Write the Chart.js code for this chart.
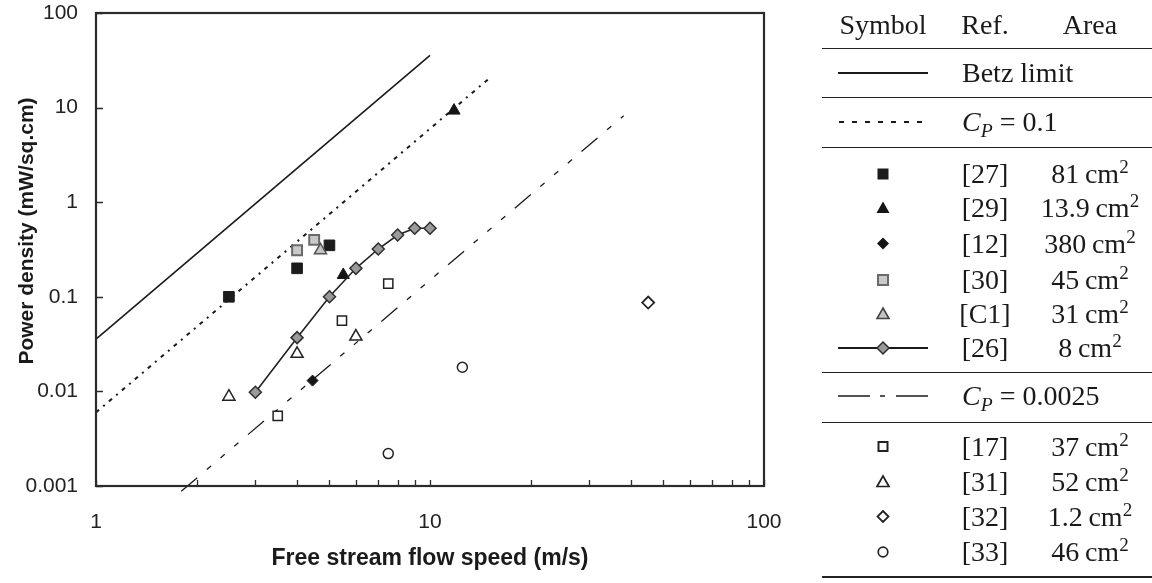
<!DOCTYPE html>
<html>
<head>
<meta charset="utf-8">
<script src="https://cdn.jsdelivr.net/npm/chart.js@4.4.0/dist/chart.umd.min.js"></script>
<style>
  body { margin: 0; background: #fff; }
  #wrap { position: relative; width: 1152px; height: 583px; overflow: hidden; }
  #chart { position: absolute; left: 0; top: 0; }
  .cell { position: absolute; font-family: "Liberation Serif", serif; font-size: 28px; color: #1a1a1a;
          line-height: 34px; height: 34px; white-space: nowrap; }
  .rule { position: absolute; left: 822px; width: 330px; height: 1px; background: #222; }
  .sym { position: absolute; left: 833px; }
  sup { font-size: 68%; vertical-align: 0.5em; line-height: 0; }
  sub { font-size: 70%; vertical-align: -0.3em; line-height: 0; }
</style>
</head>
<body>
<div id="wrap">
  <canvas id="chart" width="800" height="583"></canvas>
  <div id="table"></div>
</div>
<script>
// straight reference lines, given by their two end points
const betzSpeed = [1, 10]
const betzPower = [0.0356, 35.6]
const cp01Speed = [1, 15.2]
const cp01Power = [0.006, 21]
const cp0025Speed = [1.8, 38]
const cp0025Power = [0.00088, 8.2]

// measured devices: speed (m/s) and power density (mW/cm2)
const speed27 = [2.5, 4, 5]
const power27 = [0.1, 0.2, 0.35]
const speed29 = [5.5, 11.8]
const power29 = [0.17, 9.3]
const speed12 = [4.45]
const power12 = [0.013]
const speed30 = [4, 4.5]
const power30 = [0.31, 0.4]
const speedC1 = [4.7]
const powerC1 = [0.31]
const speed26 = [3, 4, 5, 6, 7, 8, 9, 10]
const power26 = [0.0098, 0.037, 0.1, 0.2, 0.32, 0.45, 0.53, 0.53]
const speed17 = [3.5, 5.45, 7.5]
const power17 = [0.0055, 0.056, 0.138]
const speed31 = [2.5, 4, 6]
const power31 = [0.0088, 0.025, 0.038]
const speed32 = [45]
const power32 = [0.087]
const speed33 = [7.5, 12.5]
const power33 = [0.0022, 0.018]

const xTickValues = [1, 2, 3, 4, 5, 6, 7, 8, 9, 10, 20, 30, 40, 50, 60, 70, 80, 90, 100]
const xTickLabels = [1, 10, 100]
const yTickValues = [0.001, 0.01, 0.1, 1, 10, 100]
const xTitle = 'Free stream flow speed (m/s)'
const yTitle = 'Power density (mW/sq.cm)'

// table on the right
const groupOneRefs = ['[27]', '[29]', '[12]', '[30]', '[C1]', '[26]']
const groupOneAreas = ['81', '13.9', '380', '45', '31', '8']
const groupTwoRefs = ['[17]', '[31]', '[32]', '[33]']
const groupTwoAreas = ['37', '52', '1.2', '46']

function points(xs, ys) {
    return xs.map((x, i) => ({ x: x, y: ys[i] }))
}

function markers(xs, ys, style, radius, fill, stroke, width) {
    return {
        data: points(xs, ys),
        showLine: false,
        pointStyle: style,
        pointRadius: radius,
        pointBackgroundColor: fill,
        pointBorderColor: stroke,
        pointBorderWidth: width
    }
}

function refLine(xs, ys, dash, width) {
    return {
        data: points(xs, ys),
        showLine: true,
        pointRadius: 0,
        borderColor: '#1a1a1a',
        borderWidth: width,
        borderDash: dash,
        clip: false
    }
}

const curve26 = markers(speed26, power26, 'rectRot', 6, '#9a9a9a', '#2e2e2e', 1.5)
curve26.showLine = true
curve26.borderColor = '#222'
curve26.borderWidth = 1.6

// first dataset ends up on top
const datasets = [
    markers(speedC1, powerC1, 'triangle', 7, '#c4c4c4', '#555', 1.5),
    curve26,
    markers(speed30, power30, 'rect', 7, '#c9c9c9', '#6a6a6a', 2),
    markers(speed27, power27, 'rect', 7.5, '#1c1c1c', '#1c1c1c', 1),
    markers(speed29, power29, 'triangle', 7, '#151515', '#151515', 1),
    markers(speed12, power12, 'rectRot', 5.5, '#151515', '#151515', 1),
    markers(speed17, power17, 'rect', 6.5, '#fff', '#222', 1.5),
    markers(speed31, power31, 'triangle', 7, '#fff', '#222', 1.5),
    markers(speed32, power32, 'rectRot', 6, '#fff', '#222', 1.8),
    markers(speed33, power33, 'circle', 5, '#fff', '#222', 1.5),
    refLine(betzSpeed, betzPower, [], 1.6),
    refLine(cp01Speed, cp01Power, [4, 5.5, 2, 5.5], 2),
    refLine(cp0025Speed, cp0025Power, [21, 12.5, 5.5, 12.5, 5.5, 12.5, 5.5, 12.5], 1.3)
]

// frame, inward tick marks and axis titles
const frame = {
    id: 'frame',
    afterDraw(chart) {
        const { ctx, chartArea: a, scales } = chart
        ctx.save()
        ctx.strokeStyle = '#2b2b2b'
        ctx.lineWidth = 1.3
        ctx.beginPath()
        scales.x.ticks.forEach(t => {
            const px = Math.round(scales.x.getPixelForValue(t.value)) + 0.5
            ctx.moveTo(px, a.bottom)
            ctx.lineTo(px, a.bottom - 6)
        })
        scales.y.ticks.forEach(t => {
            const py = Math.round(scales.y.getPixelForValue(t.value)) + 0.5
            ctx.moveTo(a.left, py)
            ctx.lineTo(a.left + 7, py)
        })
        ctx.stroke()
        ctx.lineWidth = 2.2
        ctx.strokeRect(a.left, a.top, a.right - a.left, a.bottom - a.top)

        ctx.fillStyle = '#1a1a1a'
        ctx.textAlign = 'center'
        ctx.font = 'bold 23px "Liberation Sans"'
        ctx.fillText(xTitle, (a.left + a.right) / 2, 565)
        ctx.translate(33, 231)
        ctx.rotate(-Math.PI / 2)
        ctx.font = 'bold 21px "Liberation Sans"'
        ctx.fillText(yTitle, 0, 0)
        ctx.restore()
    }
}

const tickFont = { family: 'Liberation Sans', size: 21 }

// labels are pushed off the axis with invisible tick marks rather than ticks.padding,
// which would also be added as empty space above and right of the plot
function hiddenTicks(length) {
    return { display: true, drawOnChartArea: false, drawTicks: true, tickLength: length, tickColor: 'rgba(0,0,0,0)' }
}

new Chart(document.getElementById('chart'), {
    type: 'scatter',
    data: { datasets: datasets },
    options: {
        responsive: false,
        animation: false,
        layout: { autoPadding: false, padding: { top: 13, right: 36, left: 0, bottom: 0 } },
        plugins: { legend: { display: false }, tooltip: { enabled: false } },
        scales: {
            x: {
                type: 'logarithmic',
                min: 1,
                max: 100,
                afterBuildTicks: s => { s.ticks = xTickValues.map(v => ({ value: v })) },
                afterFit: s => { s.height = 97 },
                grid: hiddenTicks(24),
                border: { display: false },
                ticks: {
                    autoSkip: false,
                    maxRotation: 0,
                    padding: 0,
                    color: '#222',
                    font: tickFont,
                    callback: v => xTickLabels.includes(v) ? String(v) : ''
                }
            },
            y: {
                type: 'logarithmic',
                min: 0.001,
                max: 100,
                afterBuildTicks: s => { s.ticks = yTickValues.map(v => ({ value: v })) },
                afterFit: s => { s.width = 96 },
                grid: hiddenTicks(18),
                border: { display: false },
                ticks: {
                    autoSkip: false,
                    padding: 0,
                    color: '#222',
                    font: tickFont,
                    callback: v => String(v)
                }
            }
        }
    },
    plugins: [frame]
})

// ---- table ----
const table = document.getElementById('table')

function cell(html, center, left, width, align) {
    const d = document.createElement('div')
    d.className = 'cell'
    d.style.top = (center - 17) + 'px'
    d.style.left = left + 'px'
    d.style.width = width + 'px'
    d.style.textAlign = align
    d.innerHTML = html
    table.appendChild(d)
}

function rule(y, h) {
    const d = document.createElement('div')
    d.className = 'rule'
    d.style.top = y + 'px'
    d.style.height = (h || 1) + 'px'
    table.appendChild(d)
}

// small svg sample of a line or marker, 100 px wide, centred on the symbol column
function symbol(kind, center) {
    const ns = 'http://www.w3.org/2000/svg'
    const svg = document.createElementNS(ns, 'svg')
    svg.setAttribute('width', 100)
    svg.setAttribute('height', 34)
    svg.setAttribute('class', 'sym')
    svg.style.top = (center - 17) + 'px'
    const shapes = {
        solid: '<line x1="5" y1="17" x2="95" y2="17" stroke="#1a1a1a" stroke-width="2"/>',
        dotted: '<line x1="6" y1="17" x2="95" y2="17" stroke="#1a1a1a" stroke-width="2" stroke-dasharray="5 8"/>',
        dashdot: '<line x1="5" y1="17" x2="37" y2="17" stroke="#1a1a1a" stroke-width="1.5"/>' +
                 '<line x1="47" y1="17" x2="52" y2="17" stroke="#1a1a1a" stroke-width="1.5"/>' +
                 '<line x1="63" y1="17" x2="95" y2="17" stroke="#1a1a1a" stroke-width="1.5"/>',
        blackSquare: '<rect x="44.5" y="11.5" width="11" height="11" fill="#1c1c1c"/>',
        blackTriangle: '<polygon points="50,10.5 56.5,22 43.5,22" fill="#151515"/>',
        blackDiamond: '<polygon points="50,10.5 56,16.5 50,22.5 44,16.5" fill="#151515"/>',
        graySquare: '<rect x="45" y="12" width="10" height="10" fill="#c9c9c9" stroke="#6a6a6a" stroke-width="2"/>',
        grayTriangle: '<polygon points="50,11 56,21.5 44,21.5" fill="#c4c4c4" stroke="#444" stroke-width="1.6"/>',
        lineDiamond: '<line x1="5" y1="17" x2="95" y2="17" stroke="#1a1a1a" stroke-width="2"/>' +
                     '<polygon points="50,11 56,17 50,23 44,17" fill="#9a9a9a" stroke="#2e2e2e" stroke-width="1.5"/>',
        openSquare: '<rect x="45.5" y="12" width="9" height="9" fill="#fff" stroke="#222" stroke-width="2"/>',
        openTriangle: '<polygon points="50,11 56,21.5 44,21.5" fill="#fff" stroke="#222" stroke-width="1.7"/>',
        openDiamond: '<polygon points="50,11 55.5,16.5 50,22 44.5,16.5" fill="#fff" stroke="#222" stroke-width="1.8"/>',
        openCircle: '<circle cx="50" cy="17" r="4.8" fill="#fff" stroke="#222" stroke-width="1.7"/>'
    }
    svg.innerHTML = shapes[kind]
    table.appendChild(svg)
}

const area = a => a + '\u2009cm<sup>2</sup>'
const cp = v => '<i>C</i><sub><i>P</i></sub> = ' + v

cell('Symbol', 25, 783, 200, 'center')
cell('Ref.', 25, 885, 200, 'center')
cell('Area', 25, 990, 200, 'center')
rule(48)

symbol('solid', 73)
cell('Betz limit', 73, 962, 190, 'left')
rule(97)

symbol('dotted', 122)
cell(cp('0.1'), 122, 962, 190, 'left')
rule(147)

const groupOneCenters = [174, 208, 244, 280, 314, 348]
const groupOneSymbols = ['blackSquare', 'blackTriangle', 'blackDiamond', 'graySquare', 'grayTriangle', 'lineDiamond']
groupOneRefs.forEach((r, i) => {
    symbol(groupOneSymbols[i], groupOneCenters[i])
    cell(r, groupOneCenters[i], 885, 200, 'center')
    cell(area(groupOneAreas[i]), groupOneCenters[i], 990, 200, 'center')
})
rule(372)

symbol('dashdot', 396)
cell(cp('0.0025'), 396, 962, 190, 'left')
rule(422)

const groupTwoCenters = [447, 482, 517, 552]
const groupTwoSymbols = ['openSquare', 'openTriangle', 'openDiamond', 'openCircle']
groupTwoRefs.forEach((r, i) => {
    symbol(groupTwoSymbols[i], groupTwoCenters[i])
    cell(r, groupTwoCenters[i], 885, 200, 'center')
    cell(area(groupTwoAreas[i]), groupTwoCenters[i], 990, 200, 'center')
})
rule(576, 2)
</script>
</body>
</html>
